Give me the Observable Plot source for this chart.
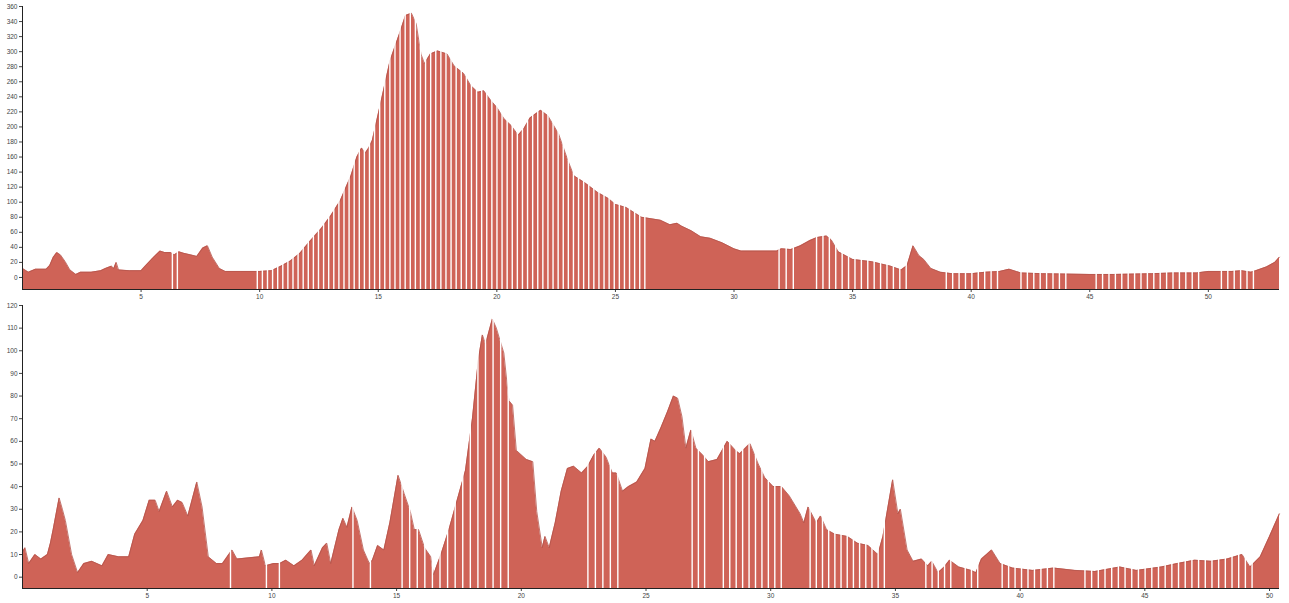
<!DOCTYPE html>
<html>
<head>
<meta charset="utf-8">
<script src="https://cdn.jsdelivr.net/npm/d3@7"></script>
<script src="https://cdn.jsdelivr.net/npm/@observablehq/plot@0.6"></script>
<style>
  html, body { margin: 0; padding: 0; background: #fff; }
  #chart svg { display: block; }
</style>
</head>
<body>
<div id="chart"></div>
<script>
// ---- Top profile (distance in km, value) ----
const topKm = [0,0.25,0.55,1.0,1.15,1.3,1.45,1.6,1.8,2.0,2.25,2.45,2.9,3.3,3.5,3.75,3.85,3.95,4.05,4.5,5.0,5.2,5.5,5.8,6.0,6.25,6.4,6.6,6.8,7.1,7.35,7.6,7.8,8.0,8.3,8.55,9.2,10,10.5,10.9,11.3,11.7,12.15,12.6,13.0,13.4,13.85,14.1,14.3,14.45,14.6,14.75,15.1,15.5,15.9,16.15,16.4,16.6,16.8,16.95,17.2,17.5,17.9,18.2,18.6,18.9,19.2,19.45,19.75,20.0,20.3,20.6,20.9,21.15,21.4,21.85,22.15,22.6,23.0,23.25,23.7,24.25,24.7,25.0,25.45,26.1,26.9,27.3,27.6,27.8,28.2,28.6,29.0,29.5,30.0,30.3,31.8,32.0,32.4,32.8,33.2,33.5,33.9,34.1,34.4,35.0,35.8,36.2,36.6,37.05,37.3,37.55,37.8,38.0,38.3,38.7,39.2,40.0,40.6,41.2,41.6,41.9,42.1,43,45,46,47.6,48.5,49.5,50.0,51.0,51.4,51.8,52.0,52.45,52.8,53.0];
const topVal = [12,7,11,11,16,27,33,30,21,10,4,7,7,9,12,15,12,20,10,9,9,16,26,35,33,33,30,34,32,30,28,39,42,27,12,8,8,8,9,15,22,32,49,65,82,102,135,160,172,165,172,182,231,288,324,348,351,337,297,284,297,301,297,281,271,255,246,248,235,226,211,202,189,198,212,222,215,191,155,135,126,113,105,97,93,80,76,70,72,68,62,54,52,46,38,35,35,38,37,42,49,53,55,50,34,24,21,18,15,10,16,42,29,24,12,7,5,5,7,8,11,8,6,5,4,4,5,6,6,8,8,9,7,9,14,20,27];
// Sections sampled more sparsely: [from km, to km, spacing km]
const topSparse = [[6.32,6.32,0.2],[6.53,6.53,0.2],[9.9,26.2,0.215],[31.9,32.5,0.3],[33.48,37.24,0.27],[38.95,41.1,0.27],[42.1,44.05,0.27],[45.27,49.55,0.27],[50.55,51.8,0.27]];
const topYTicks = [0,20,40,60,80,100,120,140,160,180,200,220,240,260,280,300,320,340,360];
const topXTicks = [5,10,15,20,25,30,35,40,45,50];

// ---- Bottom profile ----
const botKm = [0,0.1,0.25,0.5,0.74,1.0,1.12,1.23,1.47,1.6,1.72,1.97,2.21,2.46,2.78,3.19,3.44,3.85,4.26,4.5,4.83,5.08,5.32,5.48,5.78,6.01,6.22,6.4,6.63,6.99,7.2,7.45,7.78,8.02,8.4,8.6,9.5,9.58,9.74,10.07,10.31,10.56,10.89,11.21,11.57,11.7,12.03,12.2,12.36,12.69,12.85,13.01,13.21,13.42,13.67,13.91,14.03,14.24,14.49,14.73,15.06,15.3,15.55,15.71,15.88,16.12,16.37,16.48,16.78,17.1,17.43,17.76,18.04,18.28,18.44,18.57,18.84,19.0,19.3,19.5,19.65,19.8,20.2,20.46,20.62,20.84,20.95,21.12,21.36,21.6,21.85,22.1,22.42,22.67,22.91,23.13,23.4,23.65,23.81,24.06,24.3,24.63,24.96,25.2,25.36,25.6,25.86,26.1,26.27,26.44,26.6,26.8,27.0,27.27,27.5,27.85,28.26,28.59,28.76,29.17,29.5,29.76,30.1,30.43,30.74,31.18,31.33,31.5,31.83,32.0,32.24,32.57,33.07,33.48,33.9,34.3,34.5,34.89,35.1,35.2,35.47,35.71,36.05,36.3,36.46,36.71,36.96,37.17,37.54,38.04,38.23,38.45,38.86,39.2,39.7,40.5,41.35,42.2,43.0,44.0,44.66,45.66,46.3,47.0,47.65,48.3,48.9,49.22,49.63,50.0,50.4];
const botVal = [11,13,6,10,8,10,15,21,35,30,25,10,2,6,7,5,10,9,9,19,25,34,34,29,38,31,34,33,27,42,31,9,6,6,12,8,9,12,5,6,6,7.5,5,7.5,12,5,13,15,6,21,26,22,31,25,12,6,7.5,14,12,24,45,37,29,21,21,13,9,1,10,21,34,47,70,96,107,103,114,110,99,78,76,56,52,51,29,13,18,13,24,38,48,49,46,49,54,57,53,46,46,38,40,42,48,61,60,66,73,80,79,71,57,65,57,54,51,52,60,56,54.5,59,50,44,40,40,36,28,24,31,24,27,21,19,18,15,14,10,18,43,28,30,12,7,8,5,7,2,4.5,7.5,4.5,3,2,8,12,6,4,3,4,3,2.5,4.5,3,4.5,6,7.5,7,8,10,4.5,9,18,28];
const botSparse = [[8.34,8.34,0.3],[9.78,9.78,0.3],[10.3,10.3,0.3],[13.25,13.25,0.3],[13.95,13.95,0.3],[15.22,19.48,0.304],[22.67,23.9,0.3],[26.85,27.35,0.25],[28.1,30.42,0.258],[31.58,34.56,0.248],[36.22,37.12,0.25],[37.8,38.3,0.25],[39.28,41.35,0.259],[42.6,49.3,0.268]];
const botYTicks = [0,10,20,30,40,50,60,70,80,90,100,110,120];
const botXTicks = [5,10,15,20,25,30,35,40,45,50];

function profile({km, val, sparse, xDomain, yDomain, yTicks, xTicks, height, marginTop, marginBottom}) {
  const data = km.map((k, i) => ({km: k, v: val[i]}));
  const gapX = sparse.flatMap(([a, b, s]) => d3.range(a, b + s / 2, s));
  return Plot.plot({
    width: 1289,
    height,
    marginLeft: 22,
    marginRight: 10,
    marginTop,
    marginBottom,
    style: {fontSize: "6.5px", fontFamily: "Liberation Sans, Arial, sans-serif", color: "#444", background: "#fff"},
    x: {domain: xDomain, ticks: xTicks, tickSize: 3, tickPadding: 2, label: null},
    y: {domain: yDomain, ticks: yTicks, tickSize: 3, tickPadding: 2, label: null},
    marks: [
      Plot.areaY(data, {x: "km", y1: yDomain[0], y2: "v", fill: "#cf6357"}),
      Plot.lineY(data, {x: "km", y: "v", stroke: "#b4544b", strokeWidth: 0.8}),
      Plot.ruleX(gapX, {stroke: "#fff", strokeWidth: 1.4}),
      Plot.ruleX([xDomain[0]], {stroke: "#222", strokeWidth: 1}),
      Plot.ruleY([yDomain[0]], {stroke: "#222", strokeWidth: 1})
    ]
  });
}

const el = document.getElementById("chart");
el.append(profile({km: topKm, val: topVal, sparse: topSparse, xDomain: [0, 53], yDomain: [-16, 360], yTicks: topYTicks, xTicks: topXTicks, height: 300, marginTop: 6, marginBottom: 11}));
el.append(profile({km: botKm, val: botVal, sparse: botSparse, xDomain: [0, 50.4], yDomain: [-5, 120], yTicks: botYTicks, xTicks: botXTicks, height: 303, marginTop: 5, marginBottom: 15}));
</script>
</body>
</html>
